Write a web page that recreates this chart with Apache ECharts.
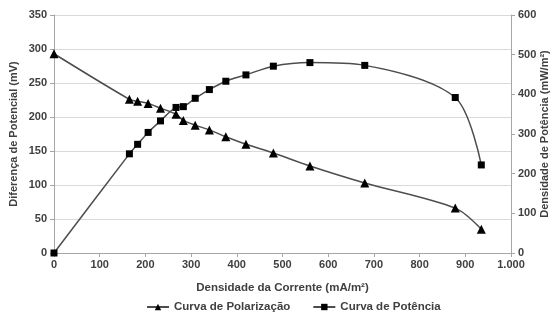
<!DOCTYPE html>
<html>
<head>
<meta charset="utf-8">
<script src="https://cdn.jsdelivr.net/npm/echarts@6/dist/echarts.min.js"></script>
<style>
  html, body { margin: 0; padding: 0; background: #fff; }
  #chart { width: 559px; height: 322px; }
</style>
</head>
<body>
<div id="chart"></div>
<script>
// Current density (mA/m²) at each measurement
const currentDensity = [0, 165, 183, 206, 233, 267, 283, 309, 340, 376, 420, 480, 560, 680, 878, 935];
// Cell potential difference (mV)
const polarization = [293, 226, 223, 220, 213, 204, 195, 188, 181, 171, 160, 147, 128, 103, 66, 35];
// Power density (mW/m²)
const power = [0, 250, 274, 304, 333, 367, 369, 390, 412, 433, 449, 471, 480, 473, 392, 222];

const leftTicks = [0, 350, 50];
const rightTicks = [0, 600, 100];
const xTicks = [0, 1000, 100];

const textColor = '#404040';
const axisGray = '#a6a6a6';
const font = 'Liberation Sans, Arial, sans-serif';

const pairs = (xs, ys) => xs.map((x, i) => [x, ys[i]]);

const chart = echarts.init(document.getElementById('chart'));
chart.setOption({
  animation: false,
  textStyle: { fontFamily: font },
  grid: { left: 54, right: 48, top: 15, bottom: 69, containLabel: false, outerBoundsMode: 'none' },
  xAxis: {
    type: 'value',
    min: xTicks[0], max: xTicks[1], interval: xTicks[2],
    name: 'Densidade da Corrente (mA/m²)',
    nameLocation: 'middle',
    nameGap: 29,
    nameMoveOverlap: false,
    nameTextStyle: { color: textColor, fontWeight: 'bold', fontSize: 11.5, fontFamily: font },
    axisLine: { lineStyle: { color: axisGray } },
    axisTick: { show: true, length: 4, lineStyle: { color: axisGray } },
    axisLabel: {
      color: textColor, fontWeight: 'bold', fontSize: 11, margin: 6, fontFamily: font,
      formatter: v => v >= 1000 ? (v / 1000) + '.' + String(v % 1000).padStart(3, '0') : String(v)
    },
    splitLine: { show: false }
  },
  yAxis: [
    {
      type: 'value',
      min: leftTicks[0], max: leftTicks[1], interval: leftTicks[2],
      name: 'Diferença de Potencial (mV)',
      nameLocation: 'middle',
      nameGap: 35,
      nameMoveOverlap: false,
      nameTextStyle: { color: textColor, fontWeight: 'bold', fontSize: 11, fontFamily: font },
      axisLine: { show: true, lineStyle: { color: axisGray } },
      axisTick: { show: true, length: 4, lineStyle: { color: axisGray } },
      axisLabel: { color: textColor, fontWeight: 'bold', fontSize: 11, margin: 7, fontFamily: font },
      splitLine: { show: true, lineStyle: { color: '#d9d9d9', width: 1 } }
    },
    {
      type: 'value',
      position: 'right',
      min: rightTicks[0], max: rightTicks[1], interval: rightTicks[2],
      name: 'Densidade de Potência (mW/m²)',
      nameLocation: 'middle',
      nameGap: 28,
      nameRotate: 90,
      nameMoveOverlap: false,
      nameTextStyle: { color: textColor, fontWeight: 'bold', fontSize: 11, fontFamily: font },
      axisLine: { show: true, lineStyle: { color: axisGray } },
      axisTick: { show: true, length: 4, lineStyle: { color: axisGray } },
      axisLabel: { color: textColor, fontWeight: 'bold', fontSize: 11, margin: 7, fontFamily: font },
      splitLine: { show: false }
    }
  ],
  legend: {
    bottom: 4,
    left: 141,
    itemGap: 22,
    itemWidth: 22,
    itemHeight: 8,
    textStyle: { color: textColor, fontWeight: 'bold', fontSize: 11.5, fontFamily: font },
    data: ['Curva de Polarização', 'Curva de Potência']
  },
  series: [
    {
      name: 'Curva de Polarização',
      type: 'line',
      yAxisIndex: 0,
      data: pairs(currentDensity, polarization),
      smooth: 0.3,
      symbol: 'triangle',
      symbolSize: 9,
      lineStyle: { color: '#4d4d4d', width: 1.5 },
      itemStyle: { color: '#000' }
    },
    {
      name: 'Curva de Potência',
      type: 'line',
      yAxisIndex: 1,
      data: pairs(currentDensity, power),
      smooth: 0.3,
      symbol: 'rect',
      symbolSize: 7,
      lineStyle: { color: '#4d4d4d', width: 1.5 },
      itemStyle: { color: '#000' }
    }
  ]
});
</script>
</body>
</html>
